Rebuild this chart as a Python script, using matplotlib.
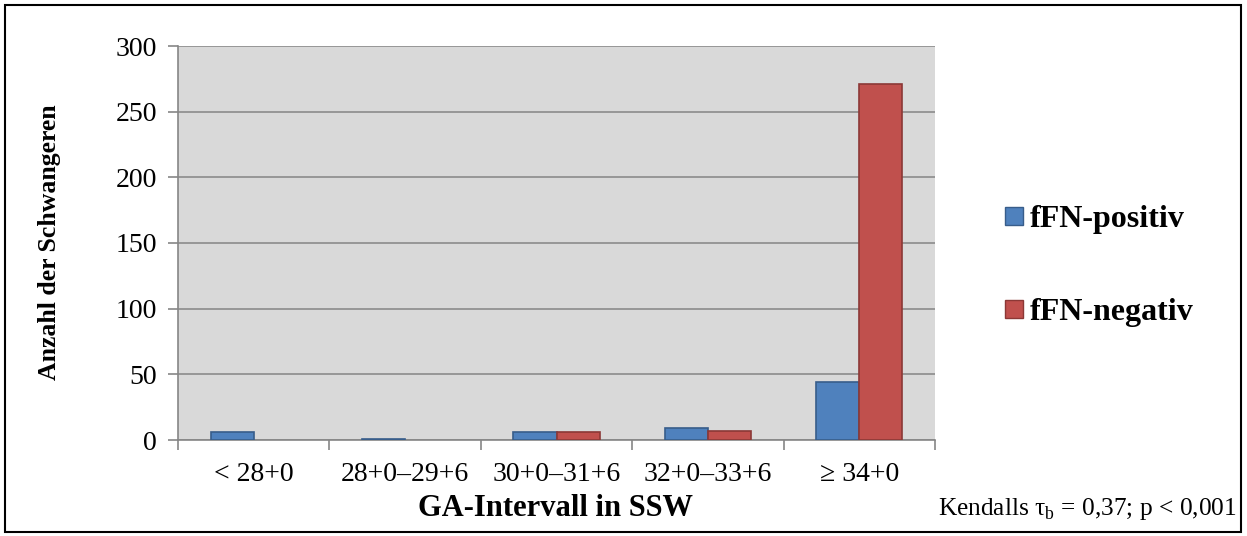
import matplotlib.pyplot as plt
import numpy as np
from matplotlib.patches import Rectangle
from matplotlib.lines import Line2D

plt.rcParams['font.family'] = ['Liberation Serif', 'DejaVu Serif']
plt.rcParams['mathtext.fontset'] = 'custom'
plt.rcParams['mathtext.rm'] = 'Liberation Serif'

categories = ['< 28+0', '28+0–29+6', '30+0–31+6', '32+0–33+6', '≥ 34+0']
positiv = [6, 1, 6, 9, 44]
negativ = [0, 0, 6, 7, 271]
series_names = ['fFN-positiv', 'fFN-negativ']

blue = '#4F81BD'
red = '#C0504D'

fig = plt.figure(figsize=(12.47, 5.36), dpi=100)
ax = fig.add_axes([178 / 1247, 1 - 440 / 536, (935 - 178) / 1247, (440 - 46) / 536])

x = np.arange(len(categories))
w = 0.285
b1 = ax.bar(x - w / 2, positiv, w, color=blue, edgecolor='#385D8A', linewidth=1.2, zorder=3)
b2 = ax.bar(x + w / 2, negativ, w, color=red, edgecolor='#8C3836', linewidth=1.2, zorder=3)
# empty categories should not leave an outline on the axis
for p in list(b1) + list(b2):
    if p.get_height() == 0:
        p.set_visible(False)

ax.set_facecolor('#D9D9D9')
ax.set_xlim(-0.5, len(categories) - 0.5)
ax.set_ylim(0, 300)
ax.set_yticks(range(0, 301, 50))
ax.yaxis.grid(True, color='#8C8C8C', linewidth=1.2, zorder=1)
ax.set_axisbelow(True)

ax.set_xticks(x)
ax.set_xticklabels(categories, fontsize=20)
ax.tick_params(axis='x', length=0, pad=16)
ax.set_xticks(np.arange(-0.5, len(categories)), minor=True)
ax.tick_params(axis='x', which='minor', length=7, color='#868686', width=1.2)
ax.tick_params(axis='y', labelsize=20, length=7, color='#868686', width=1.2, pad=8)

for s in ['top', 'right']:
    ax.spines[s].set_visible(False)
for s in ['left', 'bottom']:
    ax.spines[s].set_color('#868686')
    ax.spines[s].set_linewidth(1.2)

fig.text(556 / 1247, 1 - 508 / 536, 'GA-Intervall in SSW', fontsize=22, fontweight='bold',
         ha='center', va='center')
fig.text(50 / 1247, 1 - 242 / 536, 'Anzahl der Schwangeren', fontsize=18.5, fontweight='bold',
         ha='center', va='center', rotation=90)

handles = [Line2D([], [], marker='s', linestyle='none', markersize=13, markerfacecolor=blue, markeredgecolor='#385D8A'),
           Line2D([], [], marker='s', linestyle='none', markersize=13, markerfacecolor=red, markeredgecolor='#8C3836')]
fig.legend(handles, series_names, loc='center left', bbox_to_anchor=(1003 / 1247, 1 - 266 / 536),
           frameon=False, handlelength=0.7, handletextpad=0.15, labelspacing=2.0,
           borderpad=0, borderaxespad=0, prop={'size': 23, 'weight': 'bold'})

fig.text(1237 / 1247, 1 - 509 / 536, r'Kendalls τ$_{\rm b}$ = 0,37; p < 0,001', fontsize=18.3,
         ha='right', va='center')

fig.patches.append(Rectangle((5 / 1247, 4 / 536), 1236 / 1247, 527 / 536, transform=fig.transFigure,
                             fill=False, edgecolor='black', linewidth=1.5))

fig.savefig('out.png', dpi=100)
